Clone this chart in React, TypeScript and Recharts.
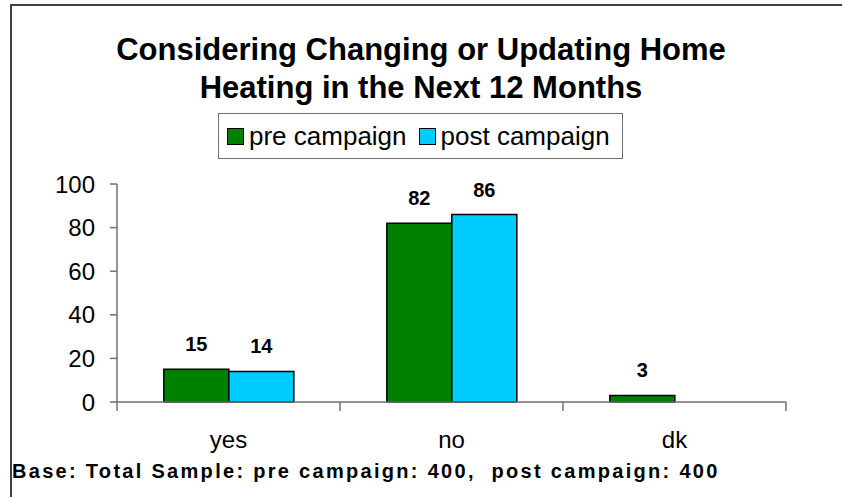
import React from 'react';
import { BarChart, Bar, XAxis, YAxis, LabelList } from 'recharts';

const categories = ['yes', 'no', 'dk'];
const preCampaign: (number | null)[] = [15, 82, 3];
const postCampaign: (number | null)[] = [14, 86, null];
const yTicks = [0, 20, 40, 60, 80, 100];
const seriesNames = ['pre campaign', 'post campaign'];
const seriesColors = ['#008000', '#00CCFF'];
const titleLines = ['Considering Changing or Updating Home', 'Heating in the Next 12 Months'];
const footer = 'Base: Total Sample: pre campaign: 400,  post campaign: 400';

const data = categories.map((c, i) => ({ name: c, pre: preCampaign[i], post: postCampaign[i] }));

const FONT = '"Liberation Sans", Arial, sans-serif';
const AXIS = '#707070';

function XTick(props: any) {
  const { x, y, payload } = props;
  const half = payload && payload.offset ? payload.offset : 111;
  const isLast = payload.index === categories.length - 1;
  return (
    <g>
      <line x1={x - half} y1={y} x2={x - half} y2={y + 9} stroke={AXIS} strokeWidth={1.5} />
      {isLast && <line x1={x + half} y1={y} x2={x + half} y2={y + 9} stroke={AXIS} strokeWidth={1.5} />}
      <text x={x} y={y + 46} textAnchor="middle" fontSize={24} fontFamily={FONT} fill="#000">
        {payload.value}
      </text>
    </g>
  );
}

export default function App() {
  return (
    <div style={{ position: 'absolute', left: 0, top: 0, width: 842, height: 497, background: '#fff', fontFamily: FONT }}>
      <div
        style={{
          position: 'absolute', left: 10, top: 4, width: 842, height: 497,
          borderTop: '2px solid #404040', borderLeft: '2px solid #404040', boxSizing: 'border-box',
        }}
      />
      <div
        style={{
          position: 'absolute', left: 0, top: 31, width: 842, textAlign: 'center',
          fontSize: 31, lineHeight: '38px', fontWeight: 'bold', color: '#000',
        }}
      >
        {titleLines.map((t) => (
          <div key={t}>{t}</div>
        ))}
      </div>
      <div
        style={{
          position: 'absolute', left: 218, top: 113, width: 405, height: 46, boxSizing: 'border-box',
          border: '1.5px solid #707070', display: 'flex', alignItems: 'center', paddingLeft: 8,
          fontSize: 26, color: '#000',
        }}
      >
        {seriesNames.map((n, i) => (
          <div key={n} style={{ display: 'flex', alignItems: 'center', marginRight: 12 }}>
            <div style={{ width: 15, height: 15, background: seriesColors[i], border: '1.5px solid #000', marginRight: 5 }} />
            <span>{n}</span>
          </div>
        ))}
      </div>
      <div style={{ position: 'absolute', left: 0, top: 0 }}>
        <BarChart
          width={842}
          height={497}
          data={data}
          margin={{ top: 184, right: 56, bottom: 55, left: 57 }}
          barCategoryGap="21%"
          barGap={0}
        >
          <YAxis
            type="number"
            domain={[0, 100]}
            ticks={yTicks}
            width={60}
            tickSize={7}
            tickMargin={15}
            axisLine={{ stroke: AXIS, strokeWidth: 1.5 }}
            tickLine={{ stroke: AXIS, strokeWidth: 1.5 }}
            tick={{ fontSize: 24, fontFamily: FONT, fill: '#000' }}
          />
          <XAxis
            dataKey="name"
            height={40}
            tickSize={0}
            tickMargin={0}
            tickLine={false}
            axisLine={{ stroke: AXIS, strokeWidth: 1.5 }}
            tick={<XTick />}
            interval={0}
          />
          <Bar dataKey="pre" fill={seriesColors[0]} stroke="#000" strokeWidth={1.5} isAnimationActive={false}>
            <LabelList dataKey="pre" position="top" offset={18} fontSize={20} fontWeight="bold" fontFamily={FONT} fill="#000" />
          </Bar>
          <Bar dataKey="post" fill={seriesColors[1]} stroke="#000" strokeWidth={1.5} isAnimationActive={false}>
            <LabelList dataKey="post" position="top" offset={18} fontSize={20} fontWeight="bold" fontFamily={FONT} fill="#000" />
          </Bar>
        </BarChart>
      </div>
      <div
        style={{
          position: 'absolute', left: 12, top: 460, fontSize: 20, fontWeight: 'bold', color: '#000',
          whiteSpace: 'pre', letterSpacing: 2.3,
        }}
      >
        {footer}
      </div>
    </div>
  );
}
